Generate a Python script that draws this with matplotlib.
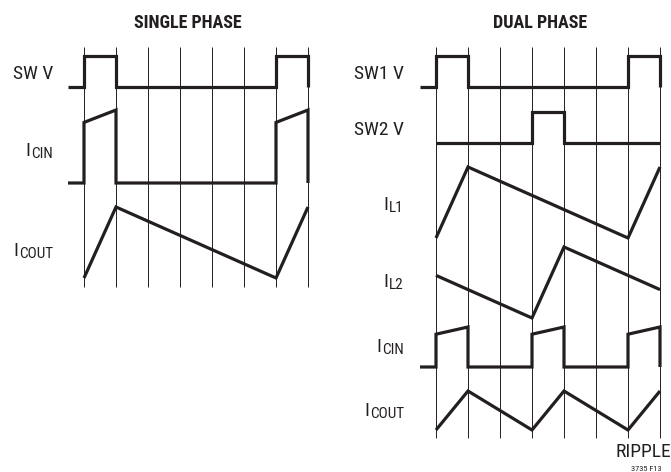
import matplotlib.pyplot as plt

plt.rcParams['font.family'] = ['Roboto Condensed', 'DejaVu Sans']

INK = '#231f20'

# time in switching divisions (grid lines at 0..7)
grid_t = [0, 1, 2, 3, 4, 5, 6, 7]

# single phase waveforms (normalised levels 0..1)
sw_t = [-0.5, 0, 0, 1, 1, 6, 6, 7, 7]
sw_lvl = [0, 0, 1, 1, 0, 0, 1, 1, 0]
icin1_t = [-0.5, 0, 0, 1, 1, 6, 6, 7, 7]
icin1_lvl = [0, 0, 0.83, 1, 0, 0, 0.83, 1, 0]
icout1_t = [0, 1, 6, 7]
icout1_lvl = [0, 1, 0, 1]

# dual phase waveforms
sw1_t = [-0.5, 0, 0, 1, 1, 6, 6, 7, 7]
sw1_lvl = [0, 0, 1, 1, 0, 0, 1, 1, 0]
sw2_t = [0, 3, 3, 4, 4, 7]
sw2_lvl = [0, 0, 1, 1, 0, 0]
il1_t = [0, 1, 6, 7]
il1_lvl = [0, 1, 0, 1]
il2_t = [0, 3, 4, 7]
il2_lvl = [0.6, 0, 1, 0.4]
icin2_t = [-0.5, 0, 0, 1, 1, 3, 3, 4, 4, 6, 6, 7, 7]
icin2_lvl = [0, 0, 0.82, 1, 0, 0, 0.82, 1, 0, 0, 0.82, 1, 0]
icout2_t = [0, 1, 3, 4, 6, 7]
icout2_lvl = [0, 1, 0, 1, 0, 1]

W, H = 671, 472
fig = plt.figure(figsize=(W / 100, H / 100), dpi=100)

# panel axes: x in time divisions (32 px per division), y in pixels from top
axL = fig.add_axes([0, 0, 340 / W, 1])
axL.set_xlim(-84 / 32, (340 - 84) / 32)
axR = fig.add_axes([340 / W, 0, (W - 340) / W, 1])
axR.set_xlim((340 - 436) / 32, (W - 436) / 32)
for ax in (axL, axR):
    ax.set_ylim(H, 0)
    ax.axis('off')


def trace(ax, t, lvl, base, amp):
    ax.plot(t, [base - v * amp for v in lvl], color=INK, lw=2.3,
            solid_joinstyle='miter', solid_capstyle='butt', zorder=3)


def label(ax, x, y, main, sub=None):
    # y is the baseline of the main text
    if sub is None:
        ax.text(x, y, main, ha='right', va='baseline', fontsize=14, color=INK)
        return
    st = ax.text(x, y + 2, sub, ha='right', va='baseline', fontsize=11, color=INK)
    ax.annotate(main, xy=(0, 0), xycoords=st, xytext=(-0.8, 0.6),
                textcoords='offset points', ha='right', va='bottom',
                fontsize=14, color=INK)


# single phase
axL.vlines(grid_t, 47, 287, color=INK, lw=0.7, zorder=1)
trace(axL, sw_t, sw_lvl, 87, 31)
trace(axL, icin1_t, icin1_lvl, 183, 73)
trace(axL, icout1_t, icout1_lvl, 278, 71)
axL.text(3.25, 23, 'SINGLE PHASE', ha='center', va='center', fontsize=13,
         fontweight='bold', color=INK)
label(axL, (53 - 84) / 32, 79, 'SW V')
label(axL, (53 - 84) / 32, 156, 'I', 'CIN')
label(axL, (53 - 84) / 32, 256, 'I', 'COUT')

# dual phase
axR.vlines(grid_t, 47, 438, color=INK, lw=0.7, zorder=1)
trace(axR, sw1_t, sw1_lvl, 87, 31)
trace(axR, sw2_t, sw2_lvl, 143, 31)
trace(axR, il1_t, il1_lvl, 238, 71)
trace(axR, il2_t, il2_lvl, 318, 71)
trace(axR, icin2_t, icin2_lvl, 367, 40)
trace(axR, icout2_t, icout2_lvl, 430, 39)
axR.text(3.25, 23, 'DUAL PHASE', ha='center', va='center', fontsize=13,
         fontweight='bold', color=INK)
xl = (404 - 436) / 32
label(axR, xl, 79, 'SW1 V')
label(axR, xl, 135, 'SW2 V')
label(axR, xl, 210, 'I', 'L1')
label(axR, xl, 287, 'I', 'L2')
label(axR, xl, 352, 'I', 'CIN')
label(axR, xl, 416, 'I', 'COUT')
axR.text((671 - 436) / 32, 457, 'RIPPLE', ha='right', va='baseline',
         fontsize=14, color=INK)
axR.text((662 - 436) / 32, 471, '3735 F13', ha='right', va='baseline',
         fontsize=6, color=INK)

fig.savefig('out.png', dpi=100)
